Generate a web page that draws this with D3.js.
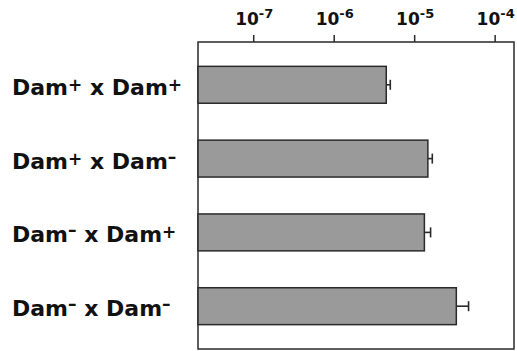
<!DOCTYPE html>
<html>
<head>
<meta charset="utf-8">
<script src="https://cdn.jsdelivr.net/npm/d3@7"></script>
<style>
  body { margin: 0; background: #fff; }
  svg { display: block; }
</style>
</head>
<body>
<svg id="chart" width="517" height="351"></svg>
<script>
// crosses: donor x recipient, superscript is the Dam status
const donors = ["+", "+", "-", "-"];
const recipients = ["+", "-", "+", "-"];
const frequency = [4.5e-6, 1.48e-5, 1.34e-5, 3.34e-5];
const errorUp = [0.55e-6, 0.2e-5, 0.26e-5, 1.4e-5];
const tickExps = [-7, -6, -5, -4];

const data = frequency.map((v, i) => ({
    donor: donors[i], recipient: recipients[i], value: v, err: errorUp[i], key: i
}));

const svg = d3.select("#chart");
const frame = {left: 198, right: 514, top: 42, bottom: 349};

let x = d3.scaleLog()
    .domain([2.06e-8, 1.74e-4])
    .range([frame.left, frame.right]);

let y = d3.scaleBand()
    .domain(data.map(d => d.key))
    .range([frame.top, frame.bottom])
    .paddingInner(0.5)
    .paddingOuter(0.33);

// plot box
svg.append("rect")
    .attr("x", frame.left).attr("y", frame.top)
    .attr("width", frame.right - frame.left)
    .attr("height", frame.bottom - frame.top)
    .attr("fill", "none")
    .attr("stroke", "#2a2a2a")
    .attr("stroke-width", 1.5);

// top axis, ticks only (the box draws the line)
let xAxis = d3.axisTop(x)
    .tickValues(tickExps.map(e => Math.pow(10, e)))
    .tickSize(7)
    .tickFormat("");
let gx = svg.append("g")
    .attr("transform", "translate(0," + frame.top + ")")
    .call(xAxis);
gx.select(".domain").remove();
gx.selectAll(".tick line").attr("stroke", "#2a2a2a").attr("stroke-width", 1.5);

let tickText = svg.append("g").selectAll("text")
    .data(tickExps)
    .join("text")
    .attr("x", d => x(Math.pow(10, d)) + 1)
    .attr("y", 25)
    .attr("text-anchor", "middle")
    .attr("font-family", "DejaVu Sans")
    .attr("font-weight", "bold")
    .attr("font-size", 17)
    .attr("fill", "#111");
tickText.append("tspan").text("10");
tickText.append("tspan")
    .attr("dy", -7)
    .attr("font-size", 13)
    .text(d => "-" + Math.abs(d));

// bars
svg.append("g").selectAll("rect")
    .data(data)
    .join("rect")
    .attr("x", frame.left)
    .attr("y", d => y(d.key))
    .attr("width", d => x(d.value) - frame.left)
    .attr("height", y.bandwidth())
    .attr("fill", "#9a9a9a")
    .attr("stroke", "#2a2a2a")
    .attr("stroke-width", 1.5);

// error bars (only the upper half shows past the bar end)
let errs = svg.append("g").selectAll("g")
    .data(data)
    .join("g")
    .attr("stroke", "#2a2a2a")
    .attr("stroke-width", 1.6);
errs.append("line")
    .attr("x1", d => x(d.value))
    .attr("x2", d => x(d.value + d.err))
    .attr("y1", d => y(d.key) + y.bandwidth() / 2)
    .attr("y2", d => y(d.key) + y.bandwidth() / 2);
errs.append("line")
    .attr("x1", d => x(d.value + d.err))
    .attr("x2", d => x(d.value + d.err))
    .attr("y1", d => y(d.key) + y.bandwidth() / 2 - 5)
    .attr("y2", d => y(d.key) + y.bandwidth() / 2 + 5);

// row labels
let sign = s => s === "+" ? "+" : "\u2013";
let labels = svg.append("g").selectAll("text")
    .data(data)
    .join("text")
    .attr("x", 12)
    .attr("y", d => y(d.key) + y.bandwidth() / 2 + 10)
    .attr("font-family", "DejaVu Sans")
    .attr("font-weight", "bold")
    .attr("font-size", 22)
    .attr("fill", "#111");
labels.append("tspan").text("Dam");
labels.append("tspan")
    .attr("dy", d => d.donor === "+" ? -4 : -6)
    .attr("font-size", 17)
    .text(d => sign(d.donor));
labels.append("tspan")
    .attr("dy", d => d.donor === "+" ? 4 : 6)
    .text(" x Dam");
labels.append("tspan")
    .attr("dy", d => d.recipient === "+" ? -4 : -6)
    .attr("font-size", 17)
    .text(d => sign(d.recipient));
</script>
</body>
</html>
